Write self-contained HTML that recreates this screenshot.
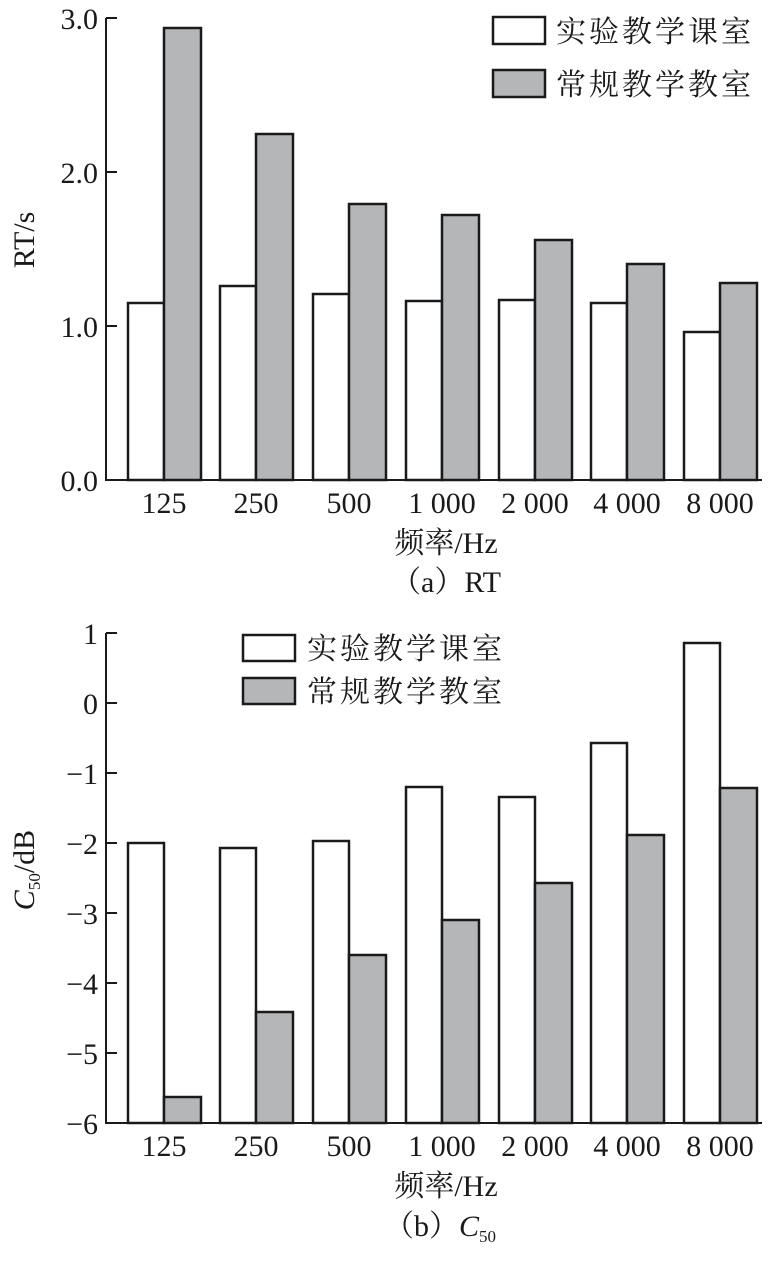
<!DOCTYPE html>
<html><head><meta charset="utf-8"><style>
html,body{margin:0;padding:0;background:#fff;}
svg text{font-family:"Liberation Serif","Noto Serif CJK SC",serif;fill:#1a1a1a;}
</style></head><body>
<svg width="772" height="1269" viewBox="0 0 772 1269" xmlns="http://www.w3.org/2000/svg">
<g stroke="#1a1a1a" stroke-width="2" fill="none">
<line x1="106" y1="18" x2="106" y2="481"/>
<line x1="105" y1="480" x2="762" y2="480"/>
<line x1="106" y1="18" x2="117" y2="18"/>
<line x1="106" y1="172" x2="117" y2="172"/>
<line x1="106" y1="326" x2="117" y2="326"/>
<line x1="106" y1="633" x2="106" y2="1124"/>
<line x1="105" y1="1123" x2="762" y2="1123"/>
<line x1="106" y1="633" x2="117" y2="633"/>
<line x1="106" y1="703" x2="117" y2="703"/>
<line x1="106" y1="773" x2="117" y2="773"/>
<line x1="106" y1="843" x2="117" y2="843"/>
<line x1="106" y1="913" x2="117" y2="913"/>
<line x1="106" y1="983" x2="117" y2="983"/>
<line x1="106" y1="1053" x2="117" y2="1053"/>
</g>
<g stroke="#1a1a1a" stroke-width="2.5">
<rect x="128" y="303" width="36" height="177" fill="#fff"/>
<rect x="220" y="286" width="36" height="194" fill="#fff"/>
<rect x="313" y="294" width="36" height="186" fill="#fff"/>
<rect x="406" y="301" width="36" height="179" fill="#fff"/>
<rect x="499" y="300" width="36" height="180" fill="#fff"/>
<rect x="591" y="303" width="36" height="177" fill="#fff"/>
<rect x="684" y="332" width="36" height="148" fill="#fff"/>
<rect x="164" y="28" width="37" height="452" fill="#b5b6b8"/>
<rect x="256" y="134" width="37" height="346" fill="#b5b6b8"/>
<rect x="349" y="204" width="37" height="276" fill="#b5b6b8"/>
<rect x="442" y="215" width="37" height="265" fill="#b5b6b8"/>
<rect x="535" y="240" width="37" height="240" fill="#b5b6b8"/>
<rect x="627" y="264" width="37" height="216" fill="#b5b6b8"/>
<rect x="720" y="283" width="37" height="197" fill="#b5b6b8"/>
<rect x="128" y="843" width="36" height="280" fill="#fff"/>
<rect x="220" y="848" width="36" height="275" fill="#fff"/>
<rect x="313" y="841" width="36" height="282" fill="#fff"/>
<rect x="406" y="787" width="36" height="336" fill="#fff"/>
<rect x="499" y="797" width="36" height="326" fill="#fff"/>
<rect x="591" y="743" width="36" height="380" fill="#fff"/>
<rect x="684" y="643" width="36" height="480" fill="#fff"/>
<rect x="164" y="1097" width="37" height="26" fill="#b5b6b8"/>
<rect x="256" y="1012" width="37" height="111" fill="#b5b6b8"/>
<rect x="349" y="955" width="37" height="168" fill="#b5b6b8"/>
<rect x="442" y="920" width="37" height="203" fill="#b5b6b8"/>
<rect x="535" y="883" width="37" height="240" fill="#b5b6b8"/>
<rect x="627" y="835" width="37" height="288" fill="#b5b6b8"/>
<rect x="720" y="788" width="37" height="335" fill="#b5b6b8"/>
<rect x="493" y="17" width="52" height="27" fill="#fff"/>
<rect x="493" y="70" width="52" height="27" fill="#b5b6b8"/>
<rect x="243" y="635" width="52" height="26" fill="#fff"/>
<rect x="243" y="678" width="52" height="26" fill="#b5b6b8"/>
</g>
<g font-size="30">
<text x="556" y="42" letter-spacing="3">实验教学课室</text>
<text x="556" y="95" letter-spacing="3">常规教学教室</text>
<text x="307" y="659" letter-spacing="3">实验教学课室</text>
<text x="307" y="702" letter-spacing="3">常规教学教室</text>
</g>
<g font-size="30" text-anchor="end">
<text x="98" y="29">3.0</text>
<text x="98" y="183">2.0</text>
<text x="98" y="337">1.0</text>
<text x="98" y="491">0.0</text>
<text x="98" y="644">1</text>
<text x="98" y="714">0</text>
<text x="98" y="784">−1</text>
<text x="98" y="854">−2</text>
<text x="98" y="924">−3</text>
<text x="98" y="994">−4</text>
<text x="98" y="1064">−5</text>
<text x="98" y="1134">−6</text>
</g>
<g font-size="30" text-anchor="middle">
<text x="164" y="513">125</text>
<text x="256" y="513">250</text>
<text x="349" y="513">500</text>
<text x="442" y="513">1 000</text>
<text x="535" y="513">2 000</text>
<text x="627" y="513">4 000</text>
<text x="720" y="513">8 000</text>
<text x="446" y="553">频率/Hz</text>
<text x="446" y="592">（a）RT</text>
<text x="164" y="1156">125</text>
<text x="256" y="1156">250</text>
<text x="349" y="1156">500</text>
<text x="442" y="1156">1 000</text>
<text x="535" y="1156">2 000</text>
<text x="627" y="1156">4 000</text>
<text x="720" y="1156">8 000</text>
<text x="446" y="1196">频率/Hz</text>
<text x="440" y="1236">（b）<tspan font-style="italic">C</tspan><tspan font-size="17" dy="6">50</tspan></text>
<text transform="translate(34,240) rotate(-90)">RT/s</text>
<text transform="translate(34,870) rotate(-90)"><tspan font-style="italic">C</tspan><tspan font-size="17" dy="6">50</tspan><tspan dy="-6">/dB</tspan></text>
</g>
</svg>
</body></html>
